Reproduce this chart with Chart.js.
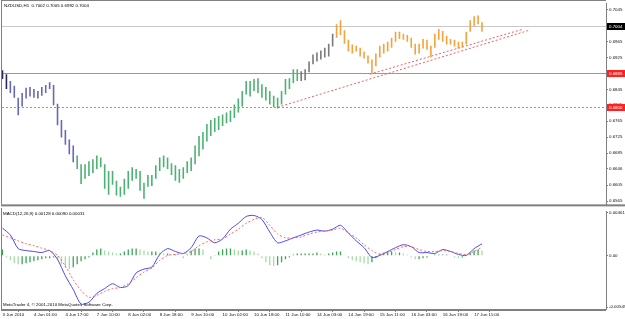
<!DOCTYPE html>
<html>
<head>
<meta charset="utf-8">
<script src="https://cdn.jsdelivr.net/npm/chart.js@4.4.0/dist/chart.umd.min.js"></script>
<style>
  html, body { margin: 0; padding: 0; background: #fff; }
  #wrap { position: relative; width: 625px; height: 319px; overflow: hidden; background: #fff; }
  #price { position: absolute; left: 0; top: 0; }
  #macd { position: absolute; left: 0; top: 208px; }
</style>
</head>
<body>
<div id="wrap">
  <canvas id="price" width="625" height="208"></canvas>
  <canvas id="macd" width="625" height="111"></canvas>
</div>
<script>
// NZDUSD H1, one sample every 2 bars
const barStep = 2;
const highs = [
  0.6893, 0.6883, 0.6866, 0.6854, 0.6824, 0.6836, 0.6849, 0.6851, 0.6846, 0.6841,
  0.6851, 0.6856, 0.6863, 0.6856, 0.6809, 0.6768, 0.6743, 0.6719, 0.6704, 0.6679,
  0.6657, 0.6657, 0.6665, 0.6670, 0.6679, 0.6674, 0.6657, 0.6640, 0.6640, 0.6616,
  0.6601, 0.6621, 0.6640, 0.6650, 0.6645, 0.6640, 0.6611, 0.6630, 0.6630, 0.6655,
  0.6674, 0.6679, 0.6674, 0.6660, 0.6655, 0.6645, 0.6650, 0.6665, 0.6674, 0.6704,
  0.6728, 0.6738, 0.6758, 0.6768, 0.6773, 0.6778, 0.6782, 0.6787, 0.6792, 0.6807,
  0.6822, 0.6841, 0.6866, 0.6866, 0.6871, 0.6873, 0.6858, 0.6851, 0.6841, 0.6829,
  0.6824, 0.6841, 0.6871, 0.6873, 0.6895, 0.6895, 0.6890, 0.6895, 0.6915, 0.6932,
  0.6937, 0.6942, 0.6949, 0.6959, 0.6984, 0.7008, 0.7018, 0.6993, 0.6969, 0.6957,
  0.6954, 0.6949, 0.6940, 0.6930, 0.6920, 0.6935, 0.6954, 0.6959, 0.6964, 0.6974,
  0.6989, 0.6989, 0.6984, 0.6981, 0.6974, 0.6959, 0.6959, 0.6971, 0.6969, 0.6954,
  0.6984, 0.6996, 0.6991, 0.6979, 0.6971, 0.6969, 0.6964, 0.6964, 0.6989, 0.7018,
  0.7028, 0.7030, 0.7013
];
const lows = [
  0.6871, 0.6846, 0.6836, 0.6824, 0.6780, 0.6802, 0.6822, 0.6827, 0.6824, 0.6822,
  0.6829, 0.6836, 0.6846, 0.6805, 0.6755, 0.6724, 0.6706, 0.6682, 0.6662, 0.6645,
  0.6608, 0.6621, 0.6628, 0.6635, 0.6645, 0.6650, 0.6596, 0.6581, 0.6606, 0.6579,
  0.6576, 0.6581, 0.6596, 0.6616, 0.6621, 0.6591, 0.6571, 0.6601, 0.6603, 0.6621,
  0.6640, 0.6650, 0.6645, 0.6630, 0.6616, 0.6611, 0.6621, 0.6635, 0.6640, 0.6657,
  0.6677, 0.6694, 0.6714, 0.6728, 0.6738, 0.6743, 0.6753, 0.6760, 0.6763, 0.6773,
  0.6787, 0.6802, 0.6832, 0.6827, 0.6841, 0.6836, 0.6824, 0.6817, 0.6807, 0.6800,
  0.6797, 0.6807, 0.6832, 0.6846, 0.6861, 0.6866, 0.6866, 0.6868, 0.6888, 0.6908,
  0.6915, 0.6920, 0.6925, 0.6927, 0.6952, 0.6974, 0.6981, 0.6959, 0.6940, 0.6935,
  0.6940, 0.6927, 0.6922, 0.6910, 0.6883, 0.6903, 0.6925, 0.6935, 0.6940, 0.6949,
  0.6964, 0.6971, 0.6969, 0.6964, 0.6949, 0.6932, 0.6935, 0.6947, 0.6944, 0.6925,
  0.6949, 0.6969, 0.6964, 0.6957, 0.6957, 0.6952, 0.6947, 0.6949, 0.6957, 0.6989,
  0.7003, 0.7008, 0.6989
];

// MACD(12,26,9), lines one sample every 4 bars, histogram every 2 bars
const lineStep = 4;
const macdMain = [
  0.00295, 0.00222, 0.00076, 0.00055, 0.00045, 0.00034, 0.00055, -0.00039, -0.00216, -0.00361,
  -0.00517, -0.00497, -0.00403, -0.00351, -0.00299, -0.00340, -0.00320, -0.00184, -0.00143, -0.00122,
  0.00014, 0.00076, 0.00045, 0.00024, 0.00086, 0.00211, 0.00191, 0.00138, 0.00180, 0.00284,
  0.00347, 0.00420, 0.00430, 0.00388, 0.00253, 0.00138, 0.00159, 0.00191, 0.00222, 0.00253,
  0.00274, 0.00263, 0.00284, 0.00326, 0.00243, 0.00159, 0.00086, -0.00018, 0.00003, 0.00045,
  0.00086, 0.00118, 0.00097, 0.00034, 0.00034, 0.00024, 0.00066, 0.00045, 0.00014, 0.00003,
  0.00076, 0.00128
];
const macdSignal = [
  0.00222, 0.00191, 0.00159, 0.00128, 0.00107, 0.00081, 0.00055, 0.00003, -0.00111, -0.00257,
  -0.00372, -0.00445, -0.00424, -0.00382, -0.00351, -0.00340, -0.00299, -0.00236, -0.00174, -0.00132,
  -0.00049, 0.00003, 0.00014, 0.00024, 0.00045, 0.00107, 0.00149, 0.00170, 0.00180, 0.00232,
  0.00284, 0.00347, 0.00388, 0.00409, 0.00326, 0.00232, 0.00191, 0.00191, 0.00201, 0.00232,
  0.00253, 0.00263, 0.00274, 0.00295, 0.00243, 0.00191, 0.00118, 0.00055, 0.00014, 0.00034,
  0.00066, 0.00097, 0.00097, 0.00066, 0.00045, 0.00045, 0.00055, 0.00045, 0.00024, 0.00014,
  0.00045, 0.00090
];
const macdHist = [
  0.00066, -0.00018, -0.00049, -0.00080, -0.00091, -0.00091, -0.00080, -0.00070, -0.00059, -0.00049,
  -0.00039, -0.00028, -0.00028, -0.00018, -0.00049, -0.00091, -0.00132, -0.00143, -0.00122, -0.00091,
  -0.00059, -0.00039, -0.00018, 0.00034, 0.00066, 0.00076, 0.00055, 0.00045, 0.00034, 0.00024,
  0.00024, 0.00045, 0.00066, 0.00076, 0.00076, 0.00066, 0.00055, 0.00045, 0.00045, 0.00045,
  0.00034, 0.00024, 0.00024, 0.00014, 0.00014, -0.00007, -0.00028, 0.00014, 0.00055, 0.00076,
  0.00076, 0.00066, -0.00007, -0.00039, 0.00003, 0.00045, 0.00066, 0.00076, 0.00076, 0.00066,
  0.00055, 0.00055, 0.00066, 0.00055, 0.00045, 0.00024, -0.00028, -0.00070, -0.00101, -0.00111,
  -0.00101, -0.00070, -0.00039, -0.00018, 0.00014, 0.00024, 0.00024, 0.00024, 0.00024, 0.00024,
  0.00034, 0.00024, 0.00014, 0.00024, 0.00034, 0.00045, 0.00045, 0.00003, -0.00028, -0.00049,
  -0.00059, -0.00070, -0.00080, -0.00091, -0.00070, -0.00028, 0.00024, 0.00034, 0.00045, 0.00045,
  0.00034, 0.00034, 0.00024, 0.00014, -0.00018, -0.00039, -0.00039, -0.00028, -0.00018, -0.00007,
  0.00014, 0.00014, 0.00014, 0.00014, -0.00007, -0.00018, -0.00028, -0.00018, -0.00007, 0.00034,
  0.00055, 0.00066, 0.00055
];

// axis labels
const timeLabels = ['3 Jun 2010', '4 Jun 01:00', '4 Jun 17:00', '7 Jun 10:00', '8 Jun 02:00', '8 Jun 18:00',
  '9 Jun 10:00', '10 Jun 02:00', '10 Jun 18:00', '11 Jun 10:00', '14 Jun 03:00', '14 Jun 19:00',
  '15 Jun 11:00', '16 Jun 03:00', '16 Jun 19:00', '17 Jun 11:00'];
const timeTickStep = 16;
const priceTicks = [0.7045, 0.7005, 0.6965, 0.6925, 0.6885, 0.6845, 0.6805, 0.6765, 0.6725, 0.6685, 0.6646, 0.6605, 0.6565];
const priceTickLabels = ['0.7045', '0.7005', '0.6965', '0.6925', '0.6885', '0.6845', '0.6805', '0.6765', '0.6725', '0.6685', '0.6646', '0.6605', '0.6565'];
const macdTicks = [0.00461, 0, -0.00549];
const macdTickLabels = ['0.00461', '0.00', '-0.00549'];

// horizontal levels and trend lines
const levelPrices = [0.7004, 0.6885, 0.6800];
const levelLabels = ['0.7004', '0.6885', '0.6800'];
const trendFrom = [[140, 0.6800], [187, 0.6883]];
const trendTo = [[268, 0.6993], [265, 0.6996]];

const titleText = 'NZDUSD,H1  0.7002 0.7005 0.6992 0.7004';
const macdTitle = 'MACD(12,26,9) 0.00128 0.00090 0.00031';
const copyright = 'MetaTrader 4, \u00a9 2001-2010 MetaQuotes Software Corp.';

const FONT = '"Liberation Sans", Arial, sans-serif';
const FS = 4.4;
Chart.defaults.font.family = FONT;
Chart.defaults.font.size = FS;
Chart.defaults.color = '#000';

const xMin = -0.25, xMax = 307.1;
const levelColors = ['#c8c8c8', '#f07474', '#f07474'];
const levelDashes = [[], [], [2, 2]];
const boxColors = ['#000000', '#ff2020', '#ff2020'];

function barColor(ctx) {
  const i = ctx.dataIndex;
  if (i < 2) return '#2a2a55';
  if (i < 19) return '#6868b8';
  if (i < 76) return '#4cb274';
  if (i < 85) return '#7a7a7a';
  return '#f5a23a';
}

const priceBars = highs.map((h, k) => ({ x: k * barStep, y: [lows[k], h] }));

const pricePlugin = {
  id: 'priceExtras',
  beforeDatasetsDraw(chart) {
    const { ctx, chartArea: a, scales: { x, y } } = chart;
    ctx.save();
    ctx.lineWidth = 1;
    levelPrices.forEach((p, i) => {
      const py = Math.round(y.getPixelForValue(p)) + 0.5;
      ctx.strokeStyle = levelColors[i];
      ctx.setLineDash(levelDashes[i]);
      ctx.beginPath();
      ctx.moveTo(a.left, py);
      ctx.lineTo(a.right, py);
      ctx.stroke();
    });
    ctx.strokeStyle = '#f06060';
    ctx.setLineDash([2, 2]);
    trendFrom.forEach((f, i) => {
      const t = trendTo[i];
      ctx.beginPath();
      ctx.moveTo(x.getPixelForValue(f[0]), y.getPixelForValue(f[1]));
      ctx.lineTo(x.getPixelForValue(t[0]), y.getPixelForValue(t[1]));
      ctx.stroke();
    });
    ctx.restore();
  },
  afterDraw(chart) {
    const { ctx, chartArea: a, scales: { y } } = chart;
    ctx.save();
    ctx.font = FS + 'px ' + FONT;
    ctx.textBaseline = 'middle';
    levelPrices.forEach((p, i) => {
      const py = Math.round(y.getPixelForValue(p));
      ctx.fillStyle = boxColors[i];
      ctx.fillRect(a.right + 1, py - 3, 18, 7);
      ctx.fillStyle = '#fff';
      ctx.fillText(levelLabels[i], a.right + 3, py + 0.5);
    });
    ctx.fillStyle = '#000';
    ctx.fillText(titleText, 4, 6);
    ctx.fillStyle = '#808080';
    ctx.fillRect(1, 0, 1, a.bottom);
    ctx.fillRect(1, 0, a.right - 1, 1);
    ctx.fillRect(1, a.bottom, 624, 2);
    ctx.restore();
  }
};

new Chart(document.getElementById('price'), {
  type: 'bar',
  data: {
    datasets: [{
      data: priceBars,
      backgroundColor: barColor,
      barThickness: 1.6,
      maxBarThickness: 1.6,
      inflateAmount: 0,
      borderWidth: 0
    }]
  },
  options: {
    responsive: false,
    animation: false,
    layout: { padding: { left: 2, top: 1, right: 0, bottom: 2 } },
    plugins: { legend: { display: false }, tooltip: { enabled: false } },
    scales: {
      x: { type: 'linear', min: xMin, max: xMax, display: false, offset: false },
      y: {
        position: 'right',
        min: 0.65567,
        max: 0.70597,
        afterBuildTicks: s => { s.ticks = priceTicks.map(v => ({ value: v })); },
        afterFit: s => { s.width = 19; },
        ticks: { callback: (v, i) => priceTickLabels[i], autoSkip: false, padding: 1, color: '#111' },
        grid: { drawOnChartArea: false, tickLength: 2, color: '#808080' },
        border: { color: '#808080' }
      }
    }
  },
  plugins: [pricePlugin]
});

const macdPlugin = {
  id: 'macdExtras',
  afterDraw(chart) {
    const { ctx, chartArea: a } = chart;
    ctx.save();
    ctx.font = FS + 'px ' + FONT;
    ctx.textBaseline = 'middle';
    ctx.fillStyle = '#000';
    ctx.fillText(macdTitle, 3, 5.5);
    ctx.fillText(copyright, 3, a.bottom - 4);
    ctx.fillStyle = '#808080';
    ctx.fillRect(1, 0, 1, a.bottom);
    ctx.fillRect(1, a.bottom, a.right - 1, 2);
    ctx.restore();
  }
};

new Chart(document.getElementById('macd'), {
  data: {
    datasets: [
      {
        type: 'line',
        data: macdSignal.map((v, m) => ({ x: m * lineStep, y: v })),
        borderColor: '#ff6464',
        borderWidth: 1,
        borderDash: [2, 2],
        pointRadius: 0,
        tension: 0.25
      },
      {
        type: 'line',
        data: macdMain.map((v, m) => ({ x: m * lineStep, y: v })),
        borderColor: '#4a4af5',
        borderWidth: 1,
        pointRadius: 0,
        tension: 0.25
      },
      {
        type: 'bar',
        data: macdHist.map((v, k) => ({ x: k * barStep, y: v })),
        backgroundColor: ctx => {
          const i = ctx.dataIndex;
          const prev = i > 0 ? macdHist[i - 1] : macdHist[i];
          return macdHist[i] >= prev ? '#3aa454' : '#a4dca4';
        },
        barThickness: 1.3,
        maxBarThickness: 1.3,
        inflateAmount: 0,
        borderWidth: 0
      }
    ]
  },
  options: {
    responsive: false,
    animation: false,
    layout: { padding: { left: 2, top: 1, right: 0, bottom: 0 } },
    plugins: { legend: { display: false }, tooltip: { enabled: false } },
    scales: {
      x: {
        type: 'linear',
        min: xMin,
        max: xMax,
        offset: false,
        afterBuildTicks: s => { s.ticks = timeLabels.map((_, i) => ({ value: i * timeTickStep })); },
        afterFit: s => { s.height = 10; },
        ticks: {
          callback: v => timeLabels[Math.round(v / timeTickStep)],
          autoSkip: false, maxRotation: 0, minRotation: 0,
          align: 'start', padding: 0, color: '#111'
        },
        grid: { drawOnChartArea: false, tickLength: 3, color: '#808080' },
        border: { color: '#808080' }
      },
      y: {
        position: 'right',
        min: -0.005698,
        max: 0.004714,
        afterBuildTicks: s => { s.ticks = macdTicks.map(v => ({ value: v })); },
        afterFit: s => { s.width = 19; },
        ticks: { callback: (v, i) => macdTickLabels[i], autoSkip: false, padding: 1, color: '#111' },
        grid: { drawOnChartArea: false, tickLength: 2, color: '#808080' },
        border: { color: '#808080' }
      }
    }
  },
  plugins: [macdPlugin]
});
</script>
</body>
</html>
